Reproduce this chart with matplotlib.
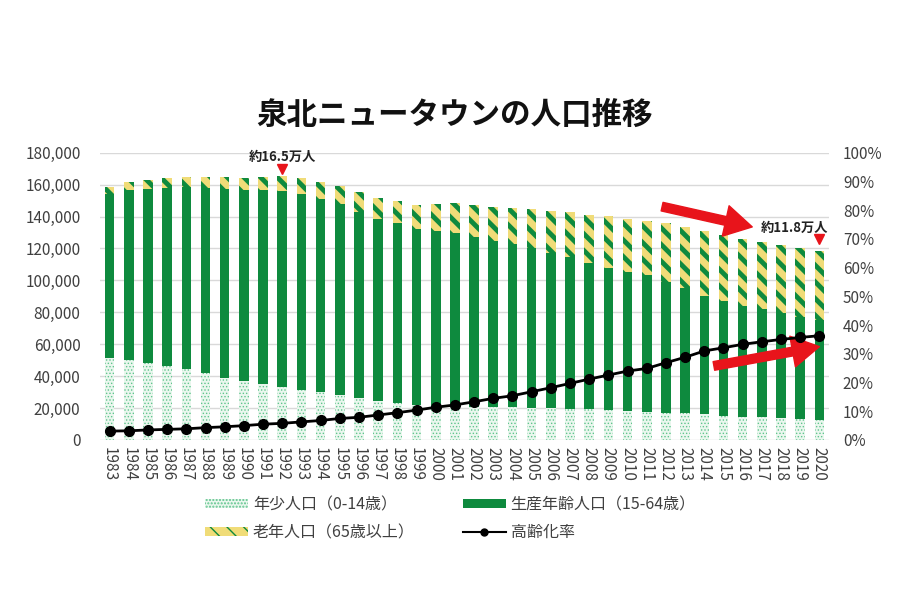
import matplotlib
matplotlib.use("Agg")
import matplotlib.pyplot as plt
import numpy as np

plt.rcParams['font.family'] = ['Noto Sans CJK JP', 'DejaVu Sans']

years = list(range(1983, 2021))
# population (persons)
youth = [51200, 50100, 48400, 46400, 44300, 41800, 39100, 36800, 34900, 33000,
         31300, 29900, 28000, 26100, 24400, 23000, 21900, 20900, 20900, 20900,
         20700, 20500, 20100, 20100, 19600, 19400, 18800, 18400, 17800, 17100,
         16700, 16100, 15200, 14600, 14200, 13800, 13200, 12500]
working = [102700, 106500, 108700, 111700, 114400, 115900, 118400, 119800, 121700, 123000,
           122600, 120900, 119700, 116900, 114100, 112800, 110100, 110200, 109000, 106500,
           104200, 102100, 100400, 97300, 95300, 91700, 89200, 87100, 85600, 82100,
           78300, 74300, 72100, 69500, 67700, 65600, 64100, 62700]
elderly = [4800, 5200, 5800, 6300, 6300, 6900, 7500, 7800, 8400, 9400,
           10100, 10700, 11400, 12200, 13300, 13900, 15000, 16800, 18400, 19800,
           21300, 22600, 24000, 26300, 28100, 29900, 32400, 33000, 34000, 36600,
           38300, 40700, 41100, 42000, 42300, 42800, 43200, 43200]
# aging rate (%)
aging_rate = [3.1, 3.2, 3.5, 3.7, 3.9, 4.3, 4.6, 5.0, 5.5, 5.8,
              6.3, 6.8, 7.5, 7.9, 8.7, 9.5, 10.4, 11.4, 12.2, 13.3,
              14.5, 15.4, 16.8, 18.2, 19.7, 21.2, 22.6, 24.0, 24.9, 26.9,
              28.8, 31.0, 32.1, 33.3, 34.2, 35.0, 35.7, 36.3]

series_labels = ['年少人口（0-14歳）', '生産年齢人口（15-64歳）', '老年人口（65歳以上）', '高齢化率']
left_ticks = list(range(0, 180001, 20000))
right_ticks = list(range(0, 101, 10))

GREEN = '#0e8a3e'
YELLOW = '#f0dc78'
DOT = '#5fc48d'
RED = '#e8141b'
TXT = '#404040'

fig = plt.figure(figsize=(9, 6), dpi=100)
ax = fig.add_axes([100/900, 1-440/600, 729/900, (440-152.7)/600])

x = np.arange(len(years))
youth_a = np.array(youth)
working_a = np.array(working)
elderly_a = np.array(elderly)
total = youth_a + working_a + elderly_a

with plt.rc_context({'hatch.linewidth': 0.6}):
    b1 = ax.bar(x, youth_a, width=0.5, color='#eaf7ee', edgecolor=DOT, linewidth=0,
                hatch='.....', label=series_labels[0], zorder=2)
b2 = ax.bar(x, working_a, width=0.5, bottom=youth_a, color=GREEN, linewidth=0,
            label=series_labels[1], zorder=2)
with plt.rc_context({'hatch.linewidth': 3.5}):
    b3 = ax.bar(x, elderly_a, width=0.5, bottom=youth_a + working_a, color=YELLOW,
                edgecolor=GREEN, linewidth=0, hatch='\\\\', label=series_labels[2], zorder=2)
for bars, lw in ((b1, 0.6), (b3, 3.5)):
    for p in bars:
        if hasattr(p, 'set_hatch_linewidth'):
            p.set_hatch_linewidth(lw)

ax.set_xlim(-0.5, len(years) - 0.5)
ax.set_ylim(0, 180000)
ax.set_yticks(left_ticks)
ax.set_yticklabels([f'{v:,}' for v in left_ticks])
ax.set_xticks(x)
ax.set_xticklabels([str(y) for y in years], rotation=-90)
ax.tick_params(axis='y', length=0, pad=14, labelsize=11, labelcolor=TXT)
ax.tick_params(axis='x', length=0, pad=5, labelsize=11, labelcolor=TXT)
ax.grid(axis='y', color='#d9d9d9', linewidth=1, zorder=0)
ax.set_axisbelow(True)
for s in ax.spines.values():
    s.set_visible(False)

ax2 = ax.twinx()
ax2.set_ylim(0, 100)
ax2.set_yticks(right_ticks)
ax2.set_yticklabels([f'{v}%' for v in right_ticks])
ax2.tick_params(axis='y', length=0, pad=10, labelsize=11, labelcolor=TXT)
for s in ax2.spines.values():
    s.set_visible(False)
ln, = ax2.plot(x, aging_rate, color='black', linewidth=2, marker='o', markersize=7,
               label=series_labels[3], zorder=3)

# annotations
i_max = years.index(1992)
i_end = years.index(2020)
ax.plot([x[i_max]], [total[i_max] + 4500], marker='v', color=RED, markersize=7, zorder=4)
ax.text(x[i_max], total[i_max] + 12000, '約16.5万人', ha='center', va='center',
        fontsize=9.5, fontweight='bold', color='#222222')
ax.plot([x[i_end]], [total[i_end] + 7500], marker='v', color=RED, markersize=7, zorder=4)
ax.text(x[i_end] - 1.3, total[i_end] + 14400, '約11.8万人', ha='center', va='center',
        fontsize=9.5, fontweight='bold', color='#222222')

arrow_style = 'simple,head_length=1.4,head_width=1.6,tail_width=0.45'
ax.annotate('', xy=(33.5, 133500), xytext=(28.8, 146200),
            arrowprops=dict(arrowstyle=arrow_style, color=RED, mutation_scale=14, shrinkA=0, shrinkB=0),
            zorder=5)
ax.annotate('', xy=(37.0, 58500), xytext=(31.5, 46400),
            arrowprops=dict(arrowstyle=arrow_style, color=RED, mutation_scale=14, shrinkA=0, shrinkB=0),
            zorder=5)

fig.text(455/900, 1-115/600, '泉北ニュータウンの人口推移', ha='center', va='center',
         fontsize=22, fontweight='bold', color='#111111')

handles = [b1, b3, b2, ln]
labels = [series_labels[0], series_labels[2], series_labels[1], series_labels[3]]
leg = fig.legend(handles, labels, ncol=2, loc='upper left', bbox_to_anchor=(205/900, 1-496/600),
                 frameon=False, fontsize=11.5, handlelength=2.7, handleheight=0.45,
                 handletextpad=0.3, columnspacing=3.0, labelspacing=0.7, borderpad=0,
                 borderaxespad=0, labelcolor=TXT)
for l in leg.get_lines():
    l.set_markersize(5)
    l.set_linewidth(1.5)

fig.savefig('out.png', dpi=100)
